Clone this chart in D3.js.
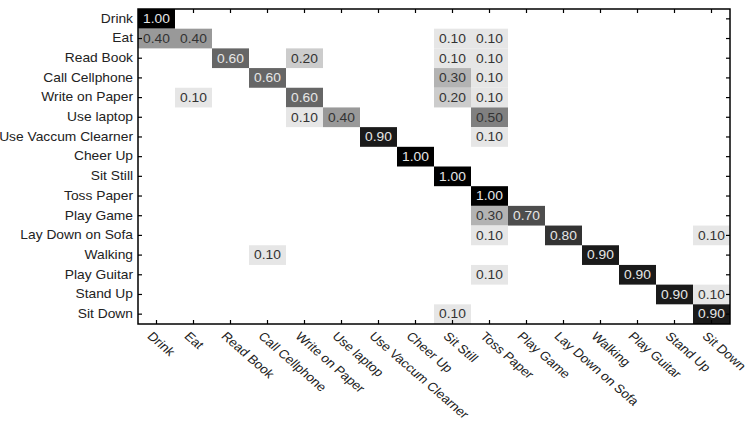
<!DOCTYPE html>
<html>
<head>
<meta charset="utf-8">
<script src="https://cdn.jsdelivr.net/npm/d3@7"></script>
<style>
  html, body { margin: 0; padding: 0; background: #fff; }
  svg { display: block; }
  text { font-family: "Liberation Sans", Arial, Helvetica, sans-serif; }
</style>
</head>
<body>
<svg id="chart" width="750" height="423"></svg>
<script>
const classes = ["Drink", "Eat", "Read Book", "Call Cellphone", "Write on Paper", "Use laptop",
  "Use Vaccum Clearner", "Cheer Up", "Sit Still", "Toss Paper", "Play Game", "Lay Down on Sofa",
  "Walking", "Play Guitar", "Stand Up", "Sit Down"];

// non-zero cells: [row (actual), column (predicted), value]
const cells = [
  [0, 0, 1.00],
  [1, 0, 0.40], [1, 1, 0.40], [1, 8, 0.10], [1, 9, 0.10],
  [2, 2, 0.60], [2, 4, 0.20], [2, 8, 0.10], [2, 9, 0.10],
  [3, 3, 0.60], [3, 8, 0.30], [3, 9, 0.10],
  [4, 1, 0.10], [4, 4, 0.60], [4, 8, 0.20], [4, 9, 0.10],
  [5, 4, 0.10], [5, 5, 0.40], [5, 9, 0.50],
  [6, 6, 0.90], [6, 9, 0.10],
  [7, 7, 1.00],
  [8, 8, 1.00],
  [9, 9, 1.00],
  [10, 9, 0.30], [10, 10, 0.70],
  [11, 9, 0.10], [11, 11, 0.80], [11, 15, 0.10],
  [12, 3, 0.10], [12, 12, 0.90],
  [13, 9, 0.10], [13, 13, 0.90],
  [14, 14, 0.90], [14, 15, 0.10],
  [15, 8, 0.10], [15, 15, 0.90]
];

(function () {
const SX = 1.15; // horizontal stretch of the original picture
const mLeft = 138, mRight = 730, mTop = 9, mBottom = 324;

const svg = d3.select("#chart");
const x = d3.scaleBand().domain(classes).range([mLeft, mRight]);
const y = d3.scaleBand().domain(classes).range([mTop, mBottom]);
const color = d3.scaleLinear().domain([0, 1]).range(["#ffffff", "#000000"]);

const g = svg.append("g");

g.selectAll("rect.cell").data(cells).enter().append("rect")
  .attr("class", "cell")
  .attr("x", d => x(classes[d[1]]))
  .attr("y", d => y(classes[d[0]]))
  .attr("width", x.bandwidth())
  .attr("height", y.bandwidth())
  .attr("fill", d => color(d[2]));

g.selectAll("text.val").data(cells).enter().append("text")
  .attr("class", "val")
  .attr("transform", d => `translate(${x(classes[d[1]]) + x.bandwidth() / 2},${y(classes[d[0]]) + y.bandwidth() / 2}) scale(${SX},1)`)
  .attr("text-anchor", "middle")
  .attr("dy", "0.36em")
  .attr("font-size", 12)
  .attr("fill", d => d[2] > 0.5 ? "#e6e6e6" : "#333")
  .text(d => d[2].toFixed(2));

const tick = 4;
// left axis with labels
const ay = svg.append("g").attr("transform", `translate(${mLeft},0)`)
  .call(d3.axisLeft(y).tickSize(-tick).tickPadding(5));
ay.select(".domain").remove();
ay.selectAll(".tick line").attr("stroke", "#000").attr("stroke-width", 1.2);
ay.selectAll(".tick text")
  .attr("font-size", 12).attr("fill", "#222")
  .attr("font-family", "Liberation Sans, Arial, sans-serif")
  .attr("transform", `scale(${SX},1)`)
  .attr("x", -5 / SX);

// right axis ticks
const ar = svg.append("g").attr("transform", `translate(${mRight},0)`)
  .call(d3.axisRight(y).tickSize(-tick).tickFormat(""));
ar.select(".domain").remove();
ar.selectAll(".tick line").attr("stroke", "#000").attr("stroke-width", 1.2);

// top axis ticks
const at = svg.append("g").attr("transform", `translate(0,${mTop})`)
  .call(d3.axisTop(x).tickSize(-tick).tickFormat(""));
at.select(".domain").remove();
at.selectAll(".tick line").attr("stroke", "#000").attr("stroke-width", 1.2);

// bottom axis with rotated labels
const ab = svg.append("g").attr("transform", `translate(0,${mBottom})`)
  .call(d3.axisBottom(x).tickSize(-tick));
ab.select(".domain").remove();
ab.selectAll(".tick line").attr("stroke", "#000").attr("stroke-width", 1.2);
ab.selectAll(".tick text")
  .attr("font-size", 12).attr("fill", "#222")
  .attr("font-family", "Liberation Sans, Arial, sans-serif")
  .attr("x", null).attr("y", null).attr("dy", null)
  .attr("text-anchor", "start")
  .attr("transform", `translate(-10,13) scale(${SX},1) rotate(45)`);

// frame
svg.append("rect")
  .attr("x", mLeft).attr("y", mTop)
  .attr("width", mRight - mLeft).attr("height", mBottom - mTop)
  .attr("fill", "none").attr("stroke", "#000").attr("stroke-width", 1.5);
})();
</script>
</body>
</html>
